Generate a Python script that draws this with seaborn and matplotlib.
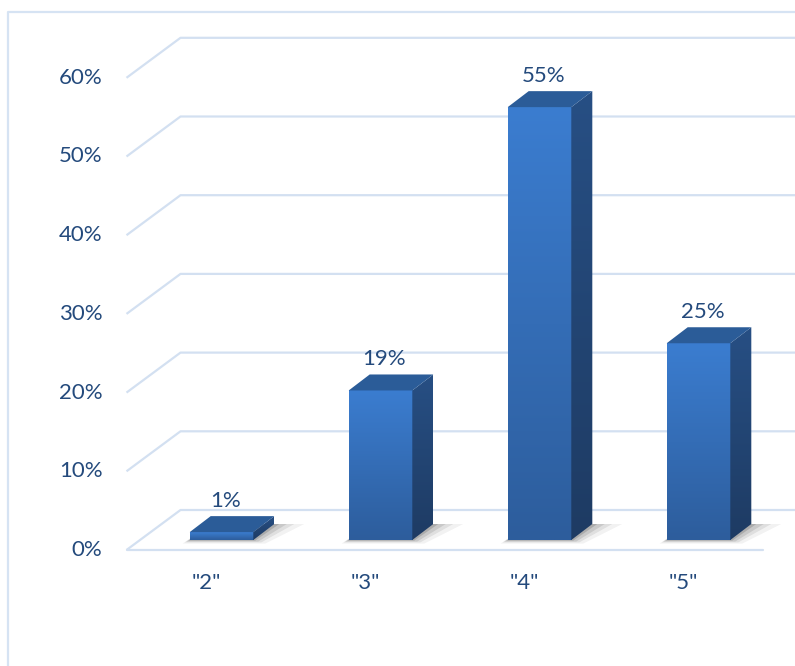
import numpy as np
import pandas as pd
import matplotlib.pyplot as plt
from matplotlib.patches import Polygon
from matplotlib.lines import Line2D
from matplotlib.colors import LinearSegmentedColormap
import seaborn as sns

grades = ['"2"', '"3"', '"4"', '"5"']
shares = [1, 19, 55, 25]
ticks = [0, 10, 20, 30, 40, 50, 60]

sns.set_style('white')
plt.rcParams['font.family'] = ['Lato', 'DejaVu Sans']

W, H = 795, 666
txt = '#244a7c'
grid = '#d3e0f1'

fig = plt.figure(figsize=(W / 100, H / 100), dpi=100)
ax = fig.add_axes([0, 0, 1, 1])

df = pd.DataFrame({'grade': grades, 'share': shares})
sns.barplot(data=df, x='grade', y='share', color='#3470be', width=0.4,
            edgecolor='none', ax=ax, zorder=3)

# bar plane: category i centred at 221.5 + 159*i px, 0% at 126 px from bottom
px_cat, px_pct = 159.0, 7.87
ax.set_xlim(-221.5 / px_cat, (W - 221.5) / px_cat)
ax.set_ylim(-126 / px_pct, (H - 126) / px_pct)
ax.axis('off')

# 3d offsets (pixels -> data units)
fx, fy = -15.5 / px_cat, -10 / px_pct   # front edge of floor
bx, by = 38.5 / px_cat, 30 / px_pct     # back wall
dx, dy = 21 / px_cat, 16 / px_pct       # bar depth

# walls / gridlines
for t in ticks:
    ax.plot([-0.5 + fx, -0.5 + bx, 10], [t + fy, t + by, t + by],
            color=grid, lw=1.6, zorder=1, solid_capstyle='butt')
    ax.text(-0.5 + fx - 24 / px_cat, t + fy, f'{t}%', ha='right', va='center',
            fontsize=16, color=txt)
ax.plot([-0.5 + fx, 3.5 + fx], [fy, fy], color=grid, lw=1.6, zorder=1)

for i, g in enumerate(grades):
    ax.text(i + fx, fy - 33 / px_pct, g, ha='center', va='center',
            fontsize=16, color=txt)

front_cm = LinearSegmentedColormap.from_list('f', ['#2d5d9c', '#3b7dd0'])
side_cm = LinearSegmentedColormap.from_list('s', ['#1e3b63', '#274f84'])
grad = np.linspace(0, 1, 256).reshape(-1, 1)

for p, v in zip(ax.patches, shares):
    x0, w, h = p.get_x(), p.get_width(), p.get_height()
    x1 = x0 + w
    # soft shadow on the floor
    for k, a in zip([12, 8, 5, 2], [0.05, 0.08, 0.10, 0.14]):
        e = k / px_cat
        shadow = Polygon([(x0 - e * 0.6, -k * 0.3 / px_pct), (x1 + e, -k * 0.3 / px_pct),
                          (x1 + dx + e * 2.5, dy), (x0 + dx, dy)],
                         closed=True, facecolor='black', alpha=a, lw=0, zorder=2)
        ax.add_patch(shadow)
    p.set_facecolor('none')
    im = ax.imshow(grad, cmap=front_cm, origin='lower', aspect='auto',
                   extent=(x0, x1, 0, h), zorder=3)
    im.set_clip_path(p)
    side = Polygon([(x1, 0), (x1 + dx, dy), (x1 + dx, h + dy), (x1, h)],
                   closed=True, facecolor='none', lw=0, zorder=3)
    ax.add_patch(side)
    im2 = ax.imshow(grad, cmap=side_cm, origin='lower', aspect='auto',
                    extent=(x1, x1 + dx, 0, h + dy), zorder=3)
    im2.set_clip_path(side)
    top = Polygon([(x0, h), (x1, h), (x1 + dx, h + dy), (x0 + dx, h + dy)],
                  closed=True, facecolor='#2b5c98', lw=0, zorder=3)
    ax.add_patch(top)
    ax.text(x0 + w / 2 + 4 / px_cat, h + 31 / px_pct, f'{v}%', ha='center',
            va='center', fontsize=16, color=txt)

ax.set_xlim(-221.5 / px_cat, (W - 221.5) / px_cat)
ax.set_ylim(-126 / px_pct, (H - 126) / px_pct)

# chart area border
fig.add_artist(Line2D([8 / W, 8 / W, 1.05], [-0.05, 1 - 12 / H, 1 - 12 / H],
                      transform=fig.transFigure, color='#d6e3f3', lw=1.6))

fig.savefig('out.png', dpi=100)
